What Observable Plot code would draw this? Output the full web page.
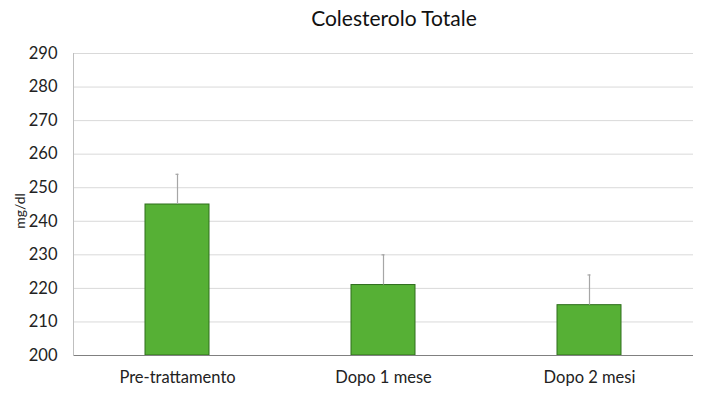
<!DOCTYPE html>
<html><head><meta charset="utf-8">
<script src="https://cdn.jsdelivr.net/npm/d3@7"></script>
<script src="https://cdn.jsdelivr.net/npm/@observablehq/plot@0.6"></script>
<style>
html,body{margin:0;padding:0;background:#fff;}
#wrap{position:relative;width:701px;height:393px;font-family:Lato,sans-serif;}
#title{position:absolute;left:0;width:788px;top:5px;text-align:center;font-size:21px;color:#111;}
#ylab{position:absolute;left:20px;top:211px;transform:translate(-50%,-50%) rotate(-90deg);font-size:14px;color:#222;white-space:nowrap;line-height:1;}
</style></head>
<body><div id="wrap"><div id="title">Colesterolo Totale</div><div id="ylab">mg/dl</div></div>
<script>
const categories = ["Pre-trattamento", "Dopo 1 mese", "Dopo 2 mesi"];
const values = [245, 221, 215];
const errors = [9, 9, 9];
const yTicks = [200, 210, 220, 230, 240, 250, 260, 270, 280, 290];

const data = categories.map((c, i) => ({cat: c, v: values[i], hi: values[i] + errors[i]}));

const chart = Plot.plot({
  width: 701, height: 393,
  marginLeft: 73, marginRight: 8, marginTop: 53, marginBottom: 38,
  style: {fontFamily: "Lato, sans-serif", fontSize: "16.5px", color: "#222", background: "#fff"},
  x: {domain: categories, padding: 0, label: null, tickSize: 0, tickPadding: 16},
  y: {domain: [200, 290], ticks: yTicks, label: null, tickSize: 0, tickPadding: 16, tickFormat: d => d},
  marks: [
    Plot.gridY(yTicks, {stroke: "#d9d9d9", strokeOpacity: 1}),
    Plot.barY(data, {x: "cat", y1: 200, y2: "v", fill: "#56b035", stroke: "#2f6e1d", strokeWidth: 1, insetLeft: 71, insetRight: 71}),
    Plot.ruleX(data, {x: "cat", y1: "v", y2: "hi", stroke: "#a6a6a6", strokeWidth: 1.2}),
    Plot.tickY(data, {x: "cat", y: "hi", stroke: "#a6a6a6", strokeWidth: 1.2, insetLeft: 101.5, insetRight: 101.5}),
    Plot.ruleY([200], {stroke: "#808080", strokeWidth: 1.2}),
    Plot.frame({anchor: "left", stroke: "#bfbfbf", strokeOpacity: 1})
  ]
});
document.getElementById("wrap").insertBefore(chart, document.getElementById("title"));
</script></body></html>
